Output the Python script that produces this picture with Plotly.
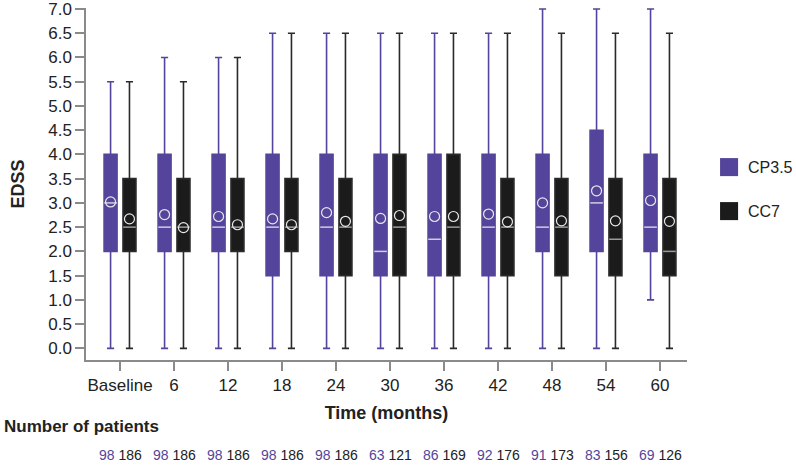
import numpy as np
import plotly.graph_objects as go

# Time points
labels = ["Baseline", "6", "12", "18", "24", "30", "36", "42", "48", "54", "60"]

# CP3.5 box statistics (EDSS)
cp_lower = [0.0, 0.0, 0.0, 0.0, 0.0, 0.0, 0.0, 0.0, 0.0, 0.0, 1.0]
cp_q1 = [2.0, 2.0, 2.0, 1.5, 1.5, 1.5, 1.5, 1.5, 2.0, 2.0, 2.0]
cp_median = [3.0, 2.5, 2.5, 2.5, 2.5, 2.0, 2.25, 2.5, 2.5, 3.0, 2.5]
cp_q3 = [4.0, 4.0, 4.0, 4.0, 4.0, 4.0, 4.0, 4.0, 4.0, 4.5, 4.0]
cp_upper = [5.5, 6.0, 6.0, 6.5, 6.5, 6.5, 6.5, 6.5, 7.0, 7.0, 7.0]
cp_mean = [3.02, 2.76, 2.72, 2.67, 2.80, 2.68, 2.72, 2.77, 3.0, 3.25, 3.05]

# CC7 box statistics (EDSS)
cc_lower = [0.0, 0.0, 0.0, 0.0, 0.0, 0.0, 0.0, 0.0, 0.0, 0.0, 0.0]
cc_q1 = [2.0, 2.0, 2.0, 2.0, 1.5, 1.5, 1.5, 1.5, 1.5, 1.5, 1.5]
cc_median = [2.5, 2.5, 2.5, 2.5, 2.5, 2.5, 2.5, 2.5, 2.5, 2.25, 2.0]
cc_q3 = [3.5, 3.5, 3.5, 3.5, 3.5, 4.0, 4.0, 3.5, 3.5, 3.5, 3.5]
cc_upper = [5.5, 5.5, 6.0, 6.5, 6.5, 6.5, 6.5, 6.5, 6.5, 6.5, 6.5]
cc_mean = [2.67, 2.49, 2.55, 2.55, 2.62, 2.74, 2.72, 2.61, 2.63, 2.63, 2.62]

# Number of patients
cp_n = [98, 98, 98, 98, 98, 63, 86, 92, 91, 83, 69]
cc_n = [186, 186, 186, 186, 186, 121, 169, 176, 173, 156, 126]

PURPLE = "#54449b"
BLACK = "#1b1b1b"
FONT = "Arial, Liberation Sans, sans-serif"

idx = np.arange(len(labels))
off = 0.175
cp_x = idx - off
cc_x = idx + off

fig = go.Figure()

groups = [
    ("CP3.5", cp_x, cp_lower, cp_q1, cp_median, cp_q3, cp_upper, cp_mean, PURPLE, PURPLE, "#cfcfe0"),
    ("CC7", cc_x, cc_lower, cc_q1, cc_median, cc_q3, cc_upper, cc_mean, BLACK, "#2a2a2a", "#9a9a9a"),
]

for name, xs, lo, q1, med, q3, up, mean, fill, wcol, medcol in groups:
    fig.add_trace(go.Box(
        x=xs, lowerfence=lo, q1=q1, median=med, q3=q3, upperfence=up,
        width=0.24, whiskerwidth=0.55, fillcolor=fill, name=name,
        line=dict(color=wcol, width=1.6), showlegend=False, hoverinfo="skip",
    ))
    # median dash
    fig.add_trace(go.Scatter(
        x=xs, y=med, mode="markers", showlegend=False, hoverinfo="skip",
        marker=dict(symbol="line-ew", size=9, line=dict(color=medcol, width=1.5)),
    ))
    # mean circle
    fig.add_trace(go.Scatter(
        x=xs, y=mean, mode="markers", showlegend=False, hoverinfo="skip",
        marker=dict(symbol="circle-open", size=10, color="#e8e8e8", line=dict(width=1.2)),
    ))

# legend, drawn by hand so it sits where the original one does
legend_y = [0.548, 0.423]
for (name, *_rest), ly in zip(groups, legend_y):
    fill = _rest[7]
    fig.add_shape(type="rect", xref="paper", yref="paper",
                  x0=1.055, x1=1.085, y0=ly - 0.0256, y1=ly + 0.0256,
                  fillcolor=fill, line=dict(width=0))
    fig.add_annotation(x=1.099, xref="paper", y=ly, yref="paper", showarrow=False,
                       text=name, xanchor="left", yanchor="middle",
                       font=dict(size=16, color="#222", family=FONT))

# patient counts
for i in idx:
    fig.add_annotation(
        x=i, xref="x", y=-0.2699, yref="paper", showarrow=False,
        text=f"<span style='color:{PURPLE}'>{cp_n[i]}</span> {cc_n[i]}",
        font=dict(size=14, color="#222", family=FONT),
        xanchor="center", yanchor="middle", borderpad=0,
    )
fig.add_annotation(
    x=-0.140, xref="paper", y=-0.19, yref="paper", showarrow=False,
    text="<b>Number of patients</b>", xanchor="left", yanchor="middle",
    font=dict(size=17, color="#222", family=FONT),
)

fig.update_layout(
    width=796, height=465,
    margin=dict(l=86, r=109, t=8, b=105),
    plot_bgcolor="white", paper_bgcolor="white",
    font=dict(family=FONT, size=17, color="#222"),
    showlegend=False,
)
fig.update_xaxes(
    range=[-0.63, 10.5], tickvals=idx, ticktext=labels,
    showline=True, linecolor="#8a8a8a", linewidth=1.5,
    ticks="outside", ticklen=9, tickcolor="#8a8a8a", tickwidth=1.5,
    showgrid=False, zeroline=False, automargin=False,
    title=dict(text="<b>Time (months)</b>", font=dict(size=18), standoff=12),
)
fig.update_yaxes(
    range=[-0.24, 7.02], tickvals=np.arange(0, 7.01, 0.5),
    tickformat=".1f", ticklabeloverflow="allow",
    showline=True, linecolor="#8a8a8a", linewidth=1.5,
    ticks="outside", ticklen=9, tickcolor="#8a8a8a", tickwidth=1.5,
    showgrid=False, zeroline=False, automargin=False,
    title=dict(text="<b>EDSS</b>", font=dict(size=18), standoff=19),
)

fig.write_html("out.html", config={"displayModeBar": False},
               post_script="document.body.style.margin='0';")
